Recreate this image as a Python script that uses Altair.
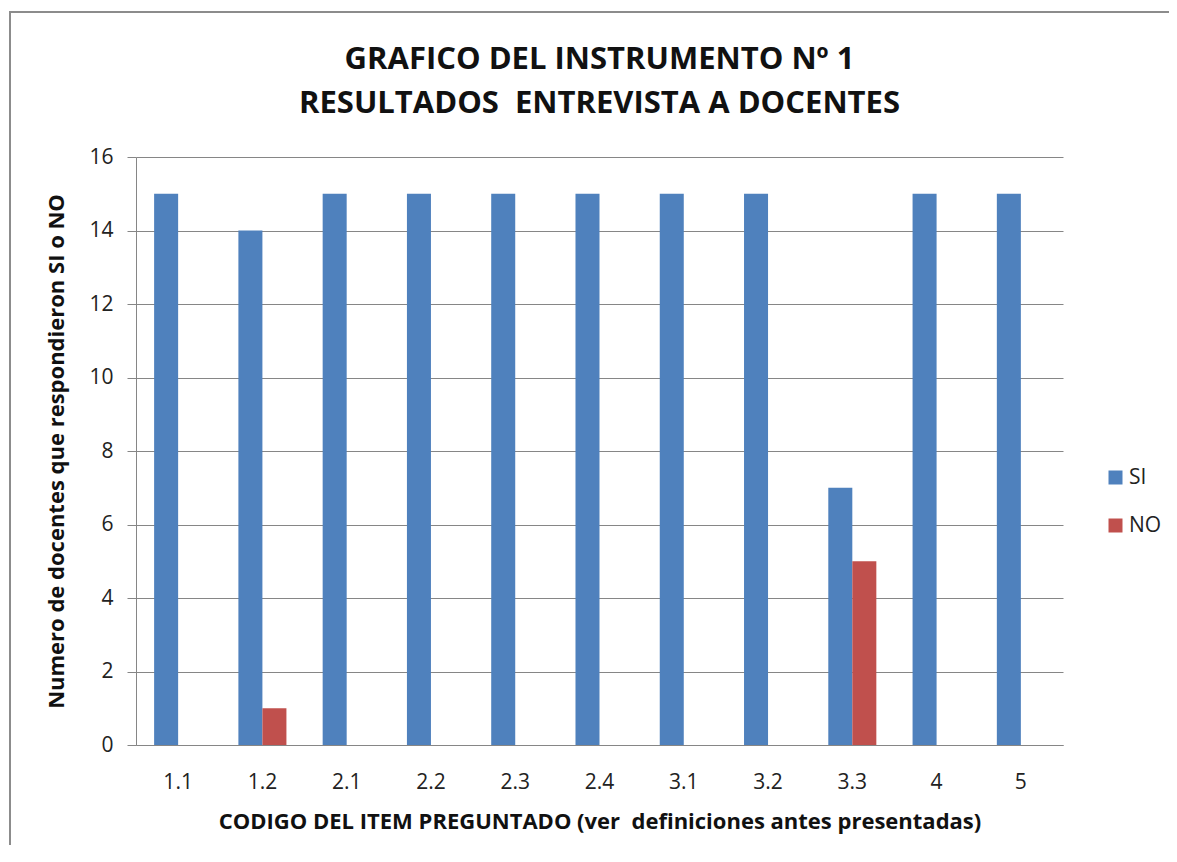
import altair as alt
import pandas as pd

categories = ["1.1", "1.2", "2.1", "2.2", "2.3", "2.4", "3.1", "3.2", "3.3", "4", "5"]
si_values = [15, 14, 15, 15, 15, 15, 15, 15, 7, 15, 15]
no_values = [0, 1, 0, 0, 0, 0, 0, 0, 5, 0, 0]
series = ["SI", "NO"]
colors = ["#4F81BD", "#C0504D"]
y_ticks = [0, 2, 4, 6, 8, 10, 12, 14, 16]

rows = []
for c, s, n in zip(categories, si_values, no_values):
    rows.append({"codigo": c, "serie": "SI", "valor": s})
    rows.append({"codigo": c, "serie": "NO", "valor": n})
df = pd.DataFrame(rows)

FONT = "Open Sans"
GRID = "#868686"

border = alt.Chart(pd.DataFrame({"a": [0]})).mark_rect(
    fill=None, stroke="#8c8c8c", strokeWidth=2
).encode(
    x=alt.value(-126), x2=alt.value(1100), y=alt.value(-145), y2=alt.value(800)
)

bars = alt.Chart(df).mark_bar().encode(
    x=alt.X(
        "codigo:N",
        sort=categories,
        scale=alt.Scale(paddingInner=0.43, paddingOuter=0.215),
        axis=alt.Axis(
            title="CODIGO DEL ITEM PREGUNTADO (ver\u00a0 definiciones antes presentadas)",
            labelAngle=0, tickSize=0, labelPadding=26, titlePadding=19,
            domainColor=GRID, labelFontSize=21, labelColor="#222222", labelFont=FONT,
            titleFont=FONT, titleFontSize=22, titleFontWeight="bold", titleColor="#111111",
        ),
    ),
    xOffset=alt.XOffset("serie:N", sort=series,
                        scale=alt.Scale(domain=series, paddingInner=0, paddingOuter=0)),
    y=alt.Y(
        "valor:Q",
        scale=alt.Scale(domain=[0, 16], nice=False),
        axis=alt.Axis(
            values=y_ticks, title="Numero de docentes que respondieron SI o NO",
            tickSize=9, tickColor=GRID, domainColor=GRID, gridColor=GRID, grid=True,
            labelPadding=14, titlePadding=20, labelFontSize=21, labelColor="#222222",
            labelFont=FONT, titleFont=FONT, titleFontSize=22, titleFontWeight="bold",
            titleColor="#111111",
        ),
    ),
    color=alt.Color(
        "serie:N",
        scale=alt.Scale(domain=series, range=colors),
        legend=alt.Legend(
            orient="none", legendX=969, legendY=310, title=None, symbolType="square",
            symbolSize=196, symbolStrokeWidth=0, labelFontSize=21, labelFont=FONT,
            labelColor="#222222", rowPadding=26, padding=0, labelOffset=3,
        ),
    ),
)

chart = alt.layer(border, bars).properties(
    width=927,
    height=588,
    autosize=alt.AutoSizeParams(type="none"),
    padding={"left": 128, "top": 149, "right": 106, "bottom": 100},
    title=alt.TitleParams(
        text=["GRAFICO DEL INSTRUMENTO Nº 1", "RESULTADOS\u00a0 ENTREVISTA A DOCENTES"],
        anchor="middle", frame="group", fontSize=31, fontWeight="bold", font=FONT,
        color="#111111", lineHeight=44, offset=0, dy=109,
    ),
).configure_view(stroke=None)

chart.save("out.html", embed_options={"renderer": "svg", "actions": False})
